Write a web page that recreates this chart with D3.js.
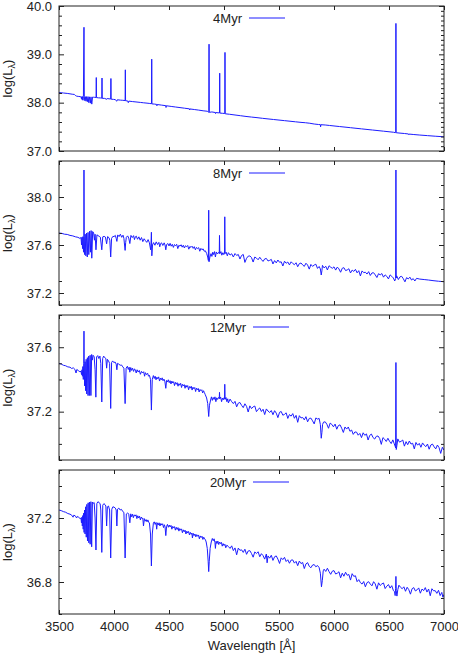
<!DOCTYPE html>
<html>
<head>
<meta charset="utf-8">
<script src="https://cdn.jsdelivr.net/npm/d3@7"></script>
<style>
body { margin: 0; background: #fff; }
text { font-family: "Liberation Sans", Arial, sans-serif; font-size: 13px; fill: #222; }
</style>
</head>
<body>
<svg id="chart" width="458" height="654"></svg>
<script>

// wavelength axis
var waveTicks = [3500, 4000, 4500, 5000, 5500, 6000, 6500, 7000];
var ageLabels = ["4Myr", "8Myr", "12Myr", "20Myr"];

// log(L) range and labelled ticks for each panel
var yDomains = [[37.0, 40.0], [37.1, 38.3], [36.9, 37.8], [36.6, 37.5]];
var yLabelTicks = [[37.0, 38.0, 39.0, 40.0], [37.2, 37.6, 38.0], [37.2, 37.6], [36.8, 37.2]];
var yMinorLeft = [0.2, 0.2, 0.1, 0.1];
var yMinorRight = [0.1, 0.1, 0.1, 0.1];

// spectra, [wavelength, log L]
var spec4Myr = [[3500,38.210],[3540,38.200],[3580,38.190],[3620,38.175],[3640,38.170],[3648,38.150],[3660,38.135],[3680,38.128],[3695,38.125],
[3700,38.120],[3704,38.080],[3707,38.125],[3711,38.060],[3714,38.125],[3718,38.050],[3722,38.125],[3727,39.560],[3730,38.120],[3735,38.040],[3739,38.125],[3746,38.030],[3751,38.125],[3758,38.020],[3764,38.125],[3771,38.000],[3777,38.120],[3785,37.990],[3791,38.120],[3798,37.970],[3805,38.115],[3815,38.112],[3825,38.110],[3837,38.108],[3839,38.520],[3841,38.105],[3860,38.100],[3875,38.098],[3889,38.094],[3891,38.510],[3893,38.090],[3915,38.088],[3934,38.070],[3938,38.085],[3955,38.080],[3970,38.076],[3972,38.500],[3974,38.072],[3995,38.068],[4010,38.064],[4026,38.030],[4030,38.060],[4060,38.052],[4075,38.050],[4101,38.044],[4103,38.680],[4105,38.040],[4125,38.035],[4130,38.000],[4135,38.032],[4170,38.022],[4200,38.015],[4240,38.005],[4270,37.997],[4300,37.990],[4320,37.985],[4341,37.978],[4343,38.900],[4345,37.975],[4370,37.970],[4388,37.964],[4390,37.935],[4393,37.962],[4430,37.950],[4471,37.938],[4473,37.900],[4476,37.936],[4520,37.922],[4560,37.910],[4600,37.898],[4640,37.886],[4686,37.872],[4688,37.850],[4690,37.870],[4730,37.858],[4770,37.846],[4810,37.832],[4850,37.822],[4858,37.800],[4862,37.808],[4864,39.210],[4866,37.800],[4890,37.808],[4921,37.796],[4923,37.775],[4925,37.795],[4959,37.788],[4961,38.610],[4963,37.785],[4985,37.780],[5007,37.776],[5009,39.040],[5011,37.770],[5050,37.760],[5100,37.745],[5150,37.730],[5200,37.715],[5250,37.702],[5300,37.690],[5350,37.676],[5400,37.664],[5450,37.652],[5500,37.640],[5550,37.628],[5600,37.616],[5650,37.604],[5700,37.592],[5740,37.585],[5780,37.574],[5820,37.558],[5860,37.548],[5876,37.545],[5878,37.500],[5881,37.544],[5920,37.538],[5960,37.528],[6000,37.518],[6050,37.506],[6100,37.494],[6150,37.482],[6200,37.470],[6250,37.458],[6300,37.446],[6350,37.434],[6400,37.422],[6450,37.410],[6500,37.398],[6540,37.388],[6556,37.380],[6561,37.382],[6563,39.640],[6565,37.378],[6600,37.370],[6640,37.362],[6678,37.352],[6680,37.338],[6683,37.350],[6720,37.342],[6780,37.330],[6850,37.318],[6920,37.306],[7000,37.294]];

var spec8Myr = [[3500,37.700],[3525,37.697],[3550,37.690],[3575,37.688],[3600,37.680],[3625,37.676],[3650,37.668],[3672,37.664],[3690,37.655],
[3700,37.662],[3705,37.600],[3709,37.665],[3714,37.570],[3718,37.670],[3723,37.540],[3726,37.668],[3727,38.225],[3729,37.670],[3733,37.520],[3738,37.690],[3744,37.510],[3750,37.700],[3757,37.500],[3764,37.705],[3771,37.520],[3778,37.715],[3786,37.540],[3792,37.720],[3798,37.490],[3806,37.712],[3815,37.700],[3822,37.640],[3828,37.690],[3836,37.560],[3845,37.685],[3855,37.678],[3866,37.672],[3876,37.665],[3889,37.560],[3898,37.668],[3910,37.672],[3922,37.666],[3933,37.610],[3942,37.670],[3955,37.660],[3962,37.640],[3970,37.500],[3978,37.655],[3990,37.672],
[4000,37.670],[4012,37.680],[4020,37.655],[4026,37.630],[4034,37.684],[4046,37.670],[4058,37.690],[4070,37.664],[4082,37.682],[4090,37.655],[4096,37.600],[4101,37.555],[4106,37.620],[4112,37.664],[4124,37.676],[4134,37.658],[4144,37.612],[4154,37.680],[4166,37.662],[4178,37.678],[4186,37.645],[4194,37.668],[4202,37.674],[4214,37.648],[4226,37.668],[4238,37.640],[4250,37.662],[4262,37.628],[4274,37.652],[4286,37.636],[4298,37.622],[4310,37.645],[4322,37.618],[4333,37.560],[4336,37.600],[4340,37.706],[4344,37.510],[4350,37.600],[4360,37.620],[4372,37.598],[4384,37.626],[4396,37.604],[4408,37.622],[4416,37.585],[4424,37.612],[4432,37.618],[4444,37.596],[4456,37.618],[4464,37.600],[4471,37.560],[4478,37.604],[4490,37.612],[4500,37.592],[4510,37.614],[4520,37.590],[4530,37.606],[4540,37.580],[4550,37.604],[4560,37.594],[4570,37.606],[4580,37.570],[4590,37.598],[4600,37.590],[4610,37.602],[4620,37.582],[4630,37.598],[4640,37.575],[4650,37.594],[4660,37.586],[4670,37.596],[4680,37.565],[4690,37.588],[4700,37.580],[4710,37.590],[4720,37.572],[4730,37.586],[4740,37.560],[4750,37.580],[4760,37.570],[4770,37.578],[4780,37.548],[4790,37.572],[4800,37.560],[4810,37.568],[4820,37.548],[4830,37.552],[4842,37.530],[4852,37.500],[4858,37.470],[4861,37.890],[4864,37.460],[4872,37.500],[4882,37.528],[4890,37.505],[4898,37.540],[4906,37.520],[4914,37.545],[4922,37.500],[4930,37.542],[4940,37.525],[4950,37.538],[4957,37.530],[4959,37.680],[4962,37.528],[4972,37.545],[4980,37.515],[4990,37.536],[4998,37.520],[5005,37.532],[5007,37.835],[5010,37.528],[5020,37.540],[5030,37.510],
[5040,37.536],[5055,37.516],[5070,37.527],[5085,37.500],[5100,37.529],[5115,37.513],[5130,37.521],[5145,37.483],[5160,37.513],[5175,37.521],[5190,37.455],[5205,37.489],[5220,37.507],[5235,37.509],[5250,37.495],[5265,37.458],[5280,37.500],[5295,37.491],[5310,37.477],[5325,37.498],[5340,37.479],[5355,37.463],[5370,37.484],[5385,37.488],[5400,37.467],[5415,37.472],[5430,37.480],[5445,37.442],[5460,37.470],[5475,37.451],[5490,37.475],[5505,37.456],[5520,37.460],[5535,37.425],[5550,37.465],[5565,37.448],[5580,37.458],[5595,37.434],[5610,37.460],[5625,37.446],[5640,37.436],[5655,37.452],[5670,37.419],[5685,37.445],[5700,37.450],[5715,37.434],[5730,37.422],[5745,37.448],[5760,37.433],[5775,37.399],[5790,37.438],[5805,37.422],[5820,37.433],[5835,37.440],[5850,37.405],[5865,37.421],[5876,37.400],[5884,37.350],[5890,37.385],[5895,37.430],[5910,37.409],[5925,37.423],[5940,37.392],[5955,37.427],[5970,37.415],[5985,37.406],[6000,37.418],[6015,37.391],[6030,37.416],[6045,37.401],[6060,37.373],[6075,37.406],[6090,37.411],[6105,37.387],[6120,37.392],[6135,37.402],[6150,37.367],[6165,37.391],[6180,37.380],[6195,37.397],[6210,37.368],[6225,37.386],[6240,37.342],[6255,37.384],[6270,37.370],[6285,37.373],[6300,37.358],[6315,37.378],[6330,37.346],[6345,37.367],[6360,37.369],[6375,37.351],[6390,37.329],[6405,37.361],[6420,37.351],[6435,37.362],[6450,37.332],[6465,37.351],[6480,37.339],[6495,37.317],[6510,37.351],[6525,37.339],[6540,37.325],[6552,37.300],[6560,37.320],[6563,38.225],[6566,37.325],[6570,37.343],[6585,37.312],[6600,37.335],[6615,37.339],[6630,37.319],[6645,37.293],[6660,37.328],[6675,37.317],[6690,37.332],[6705,37.308],[6720,37.320],[6735,37.300],[6750,37.322],[6780,37.316],[6820,37.312],[6860,37.308],[6900,37.303],[6950,37.298],[7000,37.294]];

var spec12Myr = [[3500,37.500],[3520,37.496],[3540,37.488],[3560,37.485],[3580,37.478],[3600,37.476],[3615,37.468],[3630,37.472],[3645,37.462],[3655,37.440],[3662,37.462],[3675,37.455],[3690,37.448],
[3700,37.450],[3705,37.430],[3709,37.460],[3713,37.420],[3717,37.480],[3721,37.400],[3725,37.500],[3727,37.700],[3729,37.500],[3733,37.360],[3737,37.510],[3742,37.330],[3747,37.525],[3752,37.310],[3758,37.535],[3764,37.300],[3770,37.545],[3776,37.300],[3783,37.550],[3790,37.300],[3797,37.555],[3803,37.520],[3810,37.550],[3820,37.540],[3828,37.460],[3835,37.290],[3842,37.540],[3852,37.548],[3862,37.530],[3872,37.545],[3880,37.500],[3889,37.260],[3897,37.530],[3906,37.545],[3916,37.535],[3926,37.530],[3933,37.470],[3940,37.525],[3950,37.515],[3960,37.500],[3970,37.220],[3978,37.505],[3988,37.515],[3998,37.505],[4010,37.508],[4020,37.495],[4026,37.460],[4032,37.500],[4044,37.495],[4056,37.488],[4068,37.490],[4080,37.478],[4090,37.470],[4101,37.250],
[4110,37.470],[4122,37.482],[4130,37.462],[4138,37.476],[4144,37.445],[4152,37.474],[4160,37.456],[4168,37.470],[4178,37.450],[4186,37.466],[4194,37.458],[4202,37.440],[4210,37.460],[4220,37.446],[4230,37.456],[4240,37.432],[4250,37.450],[4260,37.440],[4270,37.448],[4278,37.420],[4286,37.442],[4296,37.430],[4306,37.438],[4314,37.420],[4322,37.426],[4332,37.400],[4340,37.210],[4348,37.400],[4358,37.424],[4366,37.406],[4374,37.420],[4382,37.398],[4390,37.414],[4398,37.404],[4406,37.416],[4414,37.390],[4422,37.408],[4430,37.398],[4438,37.410],[4446,37.392],[4454,37.402],[4462,37.390],[4471,37.345],[4478,37.394],[4486,37.384],[4494,37.398],[4502,37.380],[4510,37.392],[4518,37.372],[4526,37.390],[4534,37.378],[4542,37.386],[4550,37.362],[4558,37.382],[4566,37.370],[4574,37.380],[4582,37.358],[4590,37.374],[4598,37.364],[4606,37.376],[4614,37.350],[4622,37.370],[4630,37.360],[4638,37.368],[4646,37.345],[4654,37.364],[4662,37.352],[4670,37.362],[4678,37.336],[4686,37.356],[4694,37.346],[4702,37.358],[4710,37.334],[4718,37.352],[4726,37.342],[4734,37.350],[4742,37.325],[4750,37.346],[4758,37.336],[4766,37.344],[4774,37.322],[4782,37.338],[4790,37.330],[4798,37.336],[4806,37.316],[4814,37.330],[4822,37.318],[4830,37.305],[4842,37.285],[4852,37.250],[4861,37.170],[4868,37.240],[4878,37.272],[4886,37.292],[4894,37.270],[4902,37.288],[4910,37.276],[4918,37.292],[4926,37.262],[4934,37.286],[4942,37.276],[4950,37.288],[4957,37.282],[4959,37.320],[4962,37.280],[4970,37.290],[4978,37.262],[4986,37.284],[4994,37.274],[5000,37.286],[5005,37.280],[5007,37.370],[5010,37.276],[5018,37.288],[5026,37.262],[5034,37.280],
[5040,37.254],[5055,37.278],[5070,37.262],[5085,37.250],[5100,37.264],[5115,37.230],[5130,37.253],[5145,37.257],[5160,37.239],[5175,37.225],[5190,37.249],[5205,37.233],[5220,37.198],[5235,37.236],[5250,37.219],[5265,37.230],[5280,37.235],[5295,37.200],[5310,37.214],[5325,37.223],[5340,37.201],[5355,37.215],[5370,37.182],[5385,37.217],[5400,37.204],[5415,37.195],[5430,37.207],[5445,37.181],[5460,37.206],[5475,37.191],[5490,37.163],[5505,37.196],[5520,37.201],[5535,37.178],[5550,37.183],[5565,37.193],[5580,37.158],[5595,37.182],[5610,37.172],[5625,37.188],[5640,37.159],[5655,37.177],[5670,37.134],[5685,37.175],[5700,37.161],[5715,37.164],[5730,37.149],[5745,37.169],[5760,37.137],[5775,37.158],[5790,37.160],[5805,37.143],[5820,37.124],[5835,37.161],[5850,37.154],[5865,37.158],[5876,37.120],[5884,37.035],[5890,37.070],[5896,37.120],[5905,37.135],[5920,37.137],[5935,37.122],[5950,37.097],[5965,37.129],[5980,37.121],[5995,37.106],[6010,37.123],[6025,37.091],[6040,37.114],[6055,37.118],[6070,37.097],[6085,37.071],[6100,37.105],[6115,37.092],[6130,37.105],[6145,37.078],[6160,37.086],[6175,37.059],[6190,37.074],[6205,37.073],[6220,37.054],[6235,37.065],[6250,37.039],[6265,37.069],[6280,37.053],[6295,37.062],[6310,37.024],[6325,37.053],[6340,37.061],[6355,37.039],[6370,37.030],[6385,37.047],[6400,37.049],[6415,37.034],[6430,36.997],[6445,37.039],[6460,37.029],[6475,37.015],[6490,37.035],[6505,37.016],[6520,37.002],[6535,37.025],[6548,37.000],[6556,36.985],[6560,36.975],[6563,37.505],[6566,36.965],[6572,36.990],[6580,37.031],[6595,37.011],[6610,37.016],[6625,37.024],[6640,36.986],[6655,37.014],[6670,36.995],[6685,37.018],[6700,36.999],[6715,37.004],[6730,36.969],[6745,37.009],[6760,36.992],[6775,37.003],[6790,36.979],[6805,37.006],[6820,36.992],[6835,36.983],[6850,36.999],[6865,36.967],[6880,36.993],[6895,36.999],[6910,36.982],[6925,36.969],[6940,36.993],[6955,36.977],[6970,36.941],[6985,36.979],[7000,36.961]];

var spec20Myr = [[3500,37.250],[3520,37.246],[3540,37.240],[3560,37.236],[3580,37.228],[3600,37.224],[3615,37.218],[3628,37.205],[3635,37.218],[3650,37.212],[3660,37.200],[3668,37.210],[3680,37.204],[3692,37.196],
[3700,37.200],[3704,37.170],[3708,37.205],[3712,37.150],[3716,37.215],[3720,37.130],[3724,37.230],[3728,37.110],[3732,37.250],[3737,37.100],[3742,37.270],[3748,37.080],[3753,37.285],[3759,37.057],[3765,37.295],[3771,37.045],[3777,37.300],[3783,37.036],[3790,37.302],[3797,37.020],[3804,37.300],[3812,37.292],[3820,37.296],[3828,37.200],[3836,37.000],[3844,37.290],[3854,37.302],[3864,37.296],[3874,37.290],[3880,37.250],[3889,36.985],[3898,37.280],[3908,37.290],[3918,37.284],[3926,37.275],[3933,37.150],[3940,37.270],[3950,37.275],[3960,37.250],[3970,36.950],[3980,37.255],[3990,37.270],[4000,37.268],[4012,37.262],[4020,37.250],[4026,37.150],[4032,37.255],[4044,37.262],[4056,37.250],[4068,37.254],[4080,37.240],[4090,37.235],[4101,36.950],[4112,37.225],[4124,37.232],[4134,37.224],[4144,37.170],
[4152,37.226],[4160,37.208],[4168,37.224],[4176,37.202],[4184,37.220],[4192,37.212],[4200,37.220],[4208,37.196],[4216,37.214],[4224,37.200],[4232,37.212],[4240,37.188],[4248,37.206],[4256,37.196],[4262,37.200],[4268,37.150],[4276,37.196],[4284,37.180],[4292,37.190],[4300,37.176],[4308,37.188],[4316,37.172],[4322,37.170],[4332,37.100],[4340,36.900],[4348,37.100],[4358,37.168],[4366,37.176],[4374,37.160],[4382,37.172],[4388,37.130],[4394,37.170],[4402,37.156],[4410,37.170],[4418,37.150],[4426,37.166],[4434,37.156],[4442,37.164],[4450,37.140],[4458,37.158],[4464,37.145],[4471,37.090],[4478,37.148],[4486,37.160],[4494,37.142],[4502,37.156],[4510,37.144],[4518,37.154],[4526,37.130],[4534,37.148],[4542,37.138],[4550,37.146],[4558,37.124],[4566,37.142],[4574,37.128],[4582,37.140],[4590,37.118],[4598,37.134],[4606,37.124],[4614,37.132],[4622,37.108],[4630,37.126],[4638,37.114],[4646,37.124],[4654,37.100],[4662,37.118],[4670,37.106],[4678,37.116],[4686,37.094],[4694,37.110],[4702,37.098],[4708,37.106],[4713,37.075],[4720,37.104],[4728,37.090],[4736,37.100],[4744,37.082],[4752,37.096],[4760,37.086],[4768,37.094],[4776,37.070],[4784,37.088],[4792,37.078],[4800,37.086],[4808,37.066],[4816,37.080],[4824,37.068],[4830,37.066],[4838,37.050],[4848,37.010],[4856,36.930],[4861,36.865],[4866,36.930],[4874,37.010],[4884,37.050],[4894,37.072],[4902,37.058],[4910,37.070],[4918,37.046],[4922,37.010],[4928,37.055],[4936,37.040],[4944,37.056],[4952,37.034],[4960,37.050],[4968,37.040],[4976,37.048],[4984,37.024],[4992,37.040],[5000,37.028],[5008,37.036],[5016,37.014],[5026,37.030],
[5040,37.022],[5055,37.010],[5070,37.026],[5085,36.996],[5100,37.013],[5115,36.970],[5130,37.012],[5145,36.998],[5160,37.001],[5175,36.985],[5190,37.005],[5205,36.973],[5220,36.994],[5235,36.996],[5250,36.978],[5265,36.955],[5280,36.988],[5295,36.978],[5310,36.989],[5325,36.958],[5340,36.977],[5355,36.965],[5370,36.943],[5385,36.975],[5392,36.920],[5400,36.963],[5415,36.949],[5430,36.967],[5445,36.935],[5460,36.958],[5475,36.963],[5490,36.943],[5505,36.916],[5520,36.951],[5535,36.940],[5550,36.954],[5565,36.928],[5580,36.939],[5595,36.917],[5610,36.937],[5625,36.938],[5640,36.918],[5655,36.929],[5670,36.902],[5685,36.931],[5700,36.915],[5715,36.922],[5730,36.884],[5745,36.913],[5760,36.921],[5775,36.898],[5790,36.889],[5805,36.906],[5820,36.909],[5835,36.895],[5850,36.903],[5865,36.890],[5876,36.855],[5886,36.770],[5894,36.810],[5902,36.870],[5910,36.880],[5925,36.866],[5940,36.886],[5955,36.865],[5970,36.848],[5985,36.868],[6000,36.871],[6015,36.850],[6030,36.855],[6045,36.864],[6060,36.826],[6075,36.855],[6090,36.836],[6105,36.861],[6120,36.842],[6135,36.847],[6150,36.812],[6165,36.852],[6180,36.835],[6195,36.839],[6210,36.802],[6225,36.815],[6240,36.796],[6255,36.787],[6270,36.803],[6285,36.770],[6300,36.796],[6315,36.802],[6330,36.787],[6345,36.776],[6360,36.802],[6375,36.788],[6390,36.755],[6405,36.795],[6420,36.778],[6435,36.788],[6450,36.794],[6465,36.759],[6480,36.774],[6495,36.784],[6510,36.762],[6525,36.777],[6540,36.746],[6550,36.740],[6556,36.715],[6560,36.760],[6563,36.835],[6566,36.745],[6572,36.712],[6580,36.752],[6590,36.780],[6605,36.767],[6620,36.758],[6635,36.770],[6650,36.742],[6665,36.767],[6680,36.752],[6695,36.724],[6710,36.758],[6725,36.765],[6740,36.744],[6755,36.751],[6770,36.763],[6785,36.730],[6800,36.756],[6815,36.746],[6830,36.765],[6845,36.737],[6860,36.756],[6875,36.714],[6890,36.758],[6905,36.745],[6920,36.746],[6935,36.729],[6950,36.748],[6965,36.715],[6980,36.735],[6990,36.705],[7000,36.722]];

var spectra = [spec4Myr, spec8Myr, spec12Myr, spec20Myr];

var lineColour = "#1c1cff";
var frameColour = "#222";

var svg = d3.select("#chart");
var plotLeft = 59, plotRight = 444;
var panelTops = [6, 161, 315, 470];
var panelBottoms = [151, 305, 460, 614];
var keyLineStart = [249, 249, 253, 253];

var x = d3.scaleLinear().domain([3500, 7000]).range([plotLeft, plotRight]);

function stepTicks(domain, step) {
    var out = [];
    var n = Math.round((domain[1] - domain[0]) / step);
    for (var k = 0; k <= n; k++) out.push(Math.round((domain[0] + k * step) * 100) / 100);
    return out;
}

function styleAxis(g) {
    g.select(".domain").remove();
    g.selectAll(".tick line").attr("stroke", frameColour);
}

spectra.forEach(function(spec, i) {
    var top = panelTops[i], bottom = panelBottoms[i];
    var y = d3.scaleLinear().domain(yDomains[i]).range([bottom, top]);
    var panel = svg.append("g").attr("class", "panel");

    panel.append("clipPath")
        .attr("id", "clip" + i)
      .append("rect")
        .attr("x", plotLeft).attr("y", top)
        .attr("width", plotRight - plotLeft).attr("height", bottom - top);

    var line = d3.line()
        .x(function(d) { return x(d[0]); })
        .y(function(d) { return y(d[1]); });

    panel.append("path")
        .datum(spec)
        .attr("clip-path", "url(#clip" + i + ")")
        .attr("fill", "none")
        .attr("stroke", lineColour)
        .attr("stroke-width", 1)
        .attr("stroke-linejoin", "round")
        .attr("d", line);

    // left axis: labelled majors + minors
    var majors = yLabelTicks[i];
    var isMajor = function(v) { return majors.some(function(m) { return Math.abs(m - v) < 1e-6; }); };
    var leftMinors = stepTicks(yDomains[i], yMinorLeft[i]).filter(function(v) { return !isMajor(v); });
    var rightMinors = stepTicks(yDomains[i], yMinorRight[i]).filter(function(v) { return !isMajor(v); });

    panel.append("g")
        .attr("transform", "translate(" + plotLeft + ",0)")
        .call(d3.axisLeft(y).tickValues(majors).tickFormat(d3.format(".1f")).tickSize(-5).tickPadding(7))
        .call(styleAxis);
    panel.append("g")
        .attr("transform", "translate(" + plotLeft + ",0)")
        .call(d3.axisLeft(y).tickValues(leftMinors).tickFormat("").tickSize(-3))
        .call(styleAxis);

    // mirrored right axis
    panel.append("g")
        .attr("transform", "translate(" + plotRight + ",0)")
        .call(d3.axisRight(y).tickValues(majors).tickFormat("").tickSize(-5))
        .call(styleAxis);
    panel.append("g")
        .attr("transform", "translate(" + plotRight + ",0)")
        .call(d3.axisRight(y).tickValues(rightMinors).tickFormat("").tickSize(-3))
        .call(styleAxis);

    // x ticks on top and bottom, labels only on the last panel
    panel.append("g")
        .attr("transform", "translate(0," + bottom + ")")
        .call(d3.axisBottom(x).tickValues(waveTicks)
            .tickFormat(i === spectra.length - 1 ? d3.format("d") : "")
            .tickSize(-4).tickPadding(7.5))
        .call(styleAxis);
    panel.append("g")
        .attr("transform", "translate(0," + top + ")")
        .call(d3.axisTop(x).tickValues(waveTicks).tickFormat("").tickSize(-4))
        .call(styleAxis);

    panel.append("rect")
        .attr("x", plotLeft).attr("y", top)
        .attr("width", plotRight - plotLeft).attr("height", bottom - top)
        .attr("fill", "none")
        .attr("stroke", frameColour)
        .attr("stroke-width", 1);

    // key
    var keyY = top + 12;
    panel.append("text")
        .attr("x", keyLineStart[i] - 7)
        .attr("y", keyY + 4.5)
        .attr("text-anchor", "end")
        .text(ageLabels[i]);
    panel.append("line")
        .attr("x1", keyLineStart[i]).attr("x2", keyLineStart[i] + 36)
        .attr("y1", keyY).attr("y2", keyY)
        .attr("stroke", lineColour)
        .attr("stroke-width", 1);

    // y label
    var yl = panel.append("text")
        .attr("transform", "translate(12," + ((top + bottom) / 2) + ") rotate(-90)")
        .attr("text-anchor", "middle");
    yl.append("tspan").text("log(L");
    yl.append("tspan").attr("dy", 3).style("font-size", "9px").text("λ");
    yl.append("tspan").attr("dy", -3).text(")");
});

svg.append("text")
    .attr("x", (plotLeft + plotRight) / 2)
    .attr("y", 650)
    .attr("text-anchor", "middle")
    .text("Wavelength [Å]");

</script>
</body>
</html>
